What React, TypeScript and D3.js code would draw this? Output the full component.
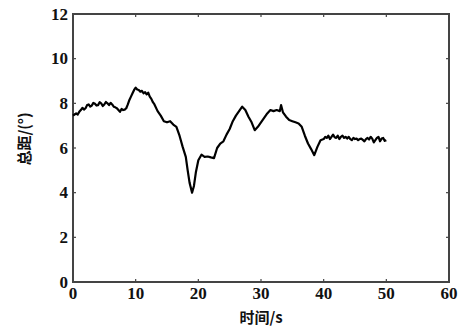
import React from "react";
import * as d3 from "d3";

// Collective pitch time history (s, deg)
const times: number[] = [
  0, 0.25, 0.5, 0.75, 1, 1.25, 1.5, 1.75, 2, 2.25, 2.5, 2.75, 3, 3.25, 3.5, 3.75,
  4, 4.25, 4.5, 4.75, 5, 5.25, 5.5, 5.75, 6, 6.25, 6.5, 6.75, 7, 7.25, 7.5, 7.75,
  8, 8.25, 8.5, 8.75, 9, 9.25, 9.5, 9.75, 10, 10.25, 10.5, 10.75, 11, 11.25, 11.5,
  11.75, 12, 12.25, 12.5, 12.75, 13, 13.5, 14, 14.5, 15, 15.5, 16, 16.5, 17, 17.5,
  18, 18.3, 18.6, 19, 19.3, 19.6, 20, 20.5, 21, 21.5, 22, 22.5, 23, 23.5, 24, 24.5,
  25, 25.5, 26, 26.5, 27, 27.5, 28, 28.5, 29, 29.5, 30, 30.5, 31, 31.5, 32, 32.5,
  33, 33.2, 33.5, 34, 34.5, 35, 35.5, 36, 36.5, 37, 37.5, 38, 38.5, 39, 39.5, 40,
  40.25, 40.5, 40.75, 41, 41.25, 41.5, 41.75, 42, 42.25, 42.5, 42.75, 43, 43.25,
  43.5, 43.75, 44, 44.25, 44.5, 44.75, 45, 45.25, 45.5, 45.75, 46, 46.25, 46.5,
  46.75, 47, 47.25, 47.5, 47.75, 48, 48.25, 48.5, 48.75, 49, 49.25, 49.5, 49.75, 50,
];
const pitch: number[] = [
  7.45, 7.5, 7.55, 7.5, 7.62, 7.7, 7.8, 7.72, 7.78, 7.92, 7.95, 7.85, 7.9, 8.02, 7.98, 7.9,
  7.92, 8.05, 8.0, 7.88, 7.95, 8.06, 8.0, 7.92, 8.02, 7.95, 7.85, 7.82, 7.78, 7.7, 7.62, 7.75,
  7.7, 7.72, 7.78, 7.95, 8.15, 8.3, 8.45, 8.6, 8.7, 8.62, 8.6, 8.52, 8.56, 8.45, 8.5,
  8.4, 8.48, 8.3, 8.2, 8.05, 7.95, 7.65, 7.45, 7.2, 7.15, 7.2, 7.05, 6.95, 6.55, 6.05,
  5.6, 5.0, 4.45, 4.0, 4.3, 4.9, 5.45, 5.7, 5.6, 5.62, 5.58, 5.55, 6.0, 6.2, 6.3, 6.6,
  6.85, 7.2, 7.45, 7.65, 7.85, 7.7, 7.4, 7.15, 6.8, 6.95, 7.15, 7.35, 7.55, 7.7, 7.65, 7.7,
  7.65, 7.92, 7.6, 7.4, 7.25, 7.2, 7.15, 7.1, 6.95, 6.55, 6.2, 5.95, 5.68, 6.05, 6.35, 6.4,
  6.5, 6.45, 6.55, 6.4, 6.5, 6.6, 6.48, 6.45, 6.55, 6.4, 6.5, 6.55, 6.45,
  6.5, 6.42, 6.5, 6.4, 6.35, 6.45, 6.4, 6.42, 6.35, 6.4, 6.42, 6.36, 6.3,
  6.4, 6.45, 6.38, 6.5, 6.42, 6.25, 6.35, 6.45, 6.5, 6.3, 6.42, 6.45, 6.32, 6.35,
];
const xTicks: number[] = [0, 10, 20, 30, 40, 50, 60];
const yTicks: number[] = [0, 2, 4, 6, 8, 10, 12];
const xLabel = "时间/s";
const yLabel = "总距/(°)";

const W = 468;
const H = 331;
const M = { left: 73, right: 19, top: 14, bottom: 49 };

export default function App() {
  const x = d3.scaleLinear().domain([0, 60]).range([M.left, W - M.right]);
  const y = d3.scaleLinear().domain([0, 12]).range([H - M.bottom, M.top]);
  const pts: [number, number][] = times.map((t, i) => [t, pitch[i]]);
  const line = d3
    .line<[number, number]>()
    .x((d) => x(d[0]))
    .y((d) => y(d[1]));

  const x0 = x(0), x1 = x(60), y0 = y(0), y1 = y(12);
  const tick = 3;
  const axisColor = "#444";
  const numStyle = {
    fontFamily: "'Liberation Serif', 'Times New Roman', Times, serif",
    fontWeight: 700,
    fontSize: "17px",
  } as React.CSSProperties;
  const cjkStyle = {
    fontFamily: "'Noto Sans CJK SC', sans-serif",
    fontWeight: 700,
    fontSize: "15px",
  } as React.CSSProperties;

  return (
    <svg
      width={W}
      height={H}
      style={{ position: "absolute", left: 0, top: 0, background: "#fff" }}
    >
      <rect x={0} y={0} width={W} height={H} fill="#fff" />
      {/* inward ticks on all four sides */}
      {xTicks.map((t) => (
        <g key={"xt" + t}>
          <line x1={x(t)} x2={x(t)} y1={y0} y2={y0 - tick} stroke={axisColor} strokeWidth={1.2} />
          <line x1={x(t)} x2={x(t)} y1={y1} y2={y1 + tick} stroke={axisColor} strokeWidth={1.2} />
          <text x={x(t)} y={y0 + 17} textAnchor="middle" style={numStyle} fill="#111">
            {t}
          </text>
        </g>
      ))}
      {yTicks.map((v) => (
        <g key={"yt" + v}>
          <line x1={x0} x2={x0 + tick} y1={y(v)} y2={y(v)} stroke={axisColor} strokeWidth={1.2} />
          <line x1={x1} x2={x1 - tick} y1={y(v)} y2={y(v)} stroke={axisColor} strokeWidth={1.2} />
          <text x={x0 - 5} y={y(v)} dy="0.34em" textAnchor="end" style={numStyle} fill="#111">
            {v}
          </text>
        </g>
      ))}
      <rect
        x={x0}
        y={y1}
        width={x1 - x0}
        height={y0 - y1}
        fill="none"
        stroke={axisColor}
        strokeWidth={2}
      />
      <path d={line(pts) ?? ""} fill="none" stroke="#000" strokeWidth={2.2} strokeLinejoin="round" />
      <text x={(x0 + x1) / 2} y={323} textAnchor="middle" style={cjkStyle} fill="#111">
        {xLabel}
      </text>
      <text
        transform={`translate(30,139) rotate(-90)`}
        textAnchor="middle"
        style={cjkStyle}
        fill="#111"
      >
        {yLabel}
      </text>
    </svg>
  );
}
